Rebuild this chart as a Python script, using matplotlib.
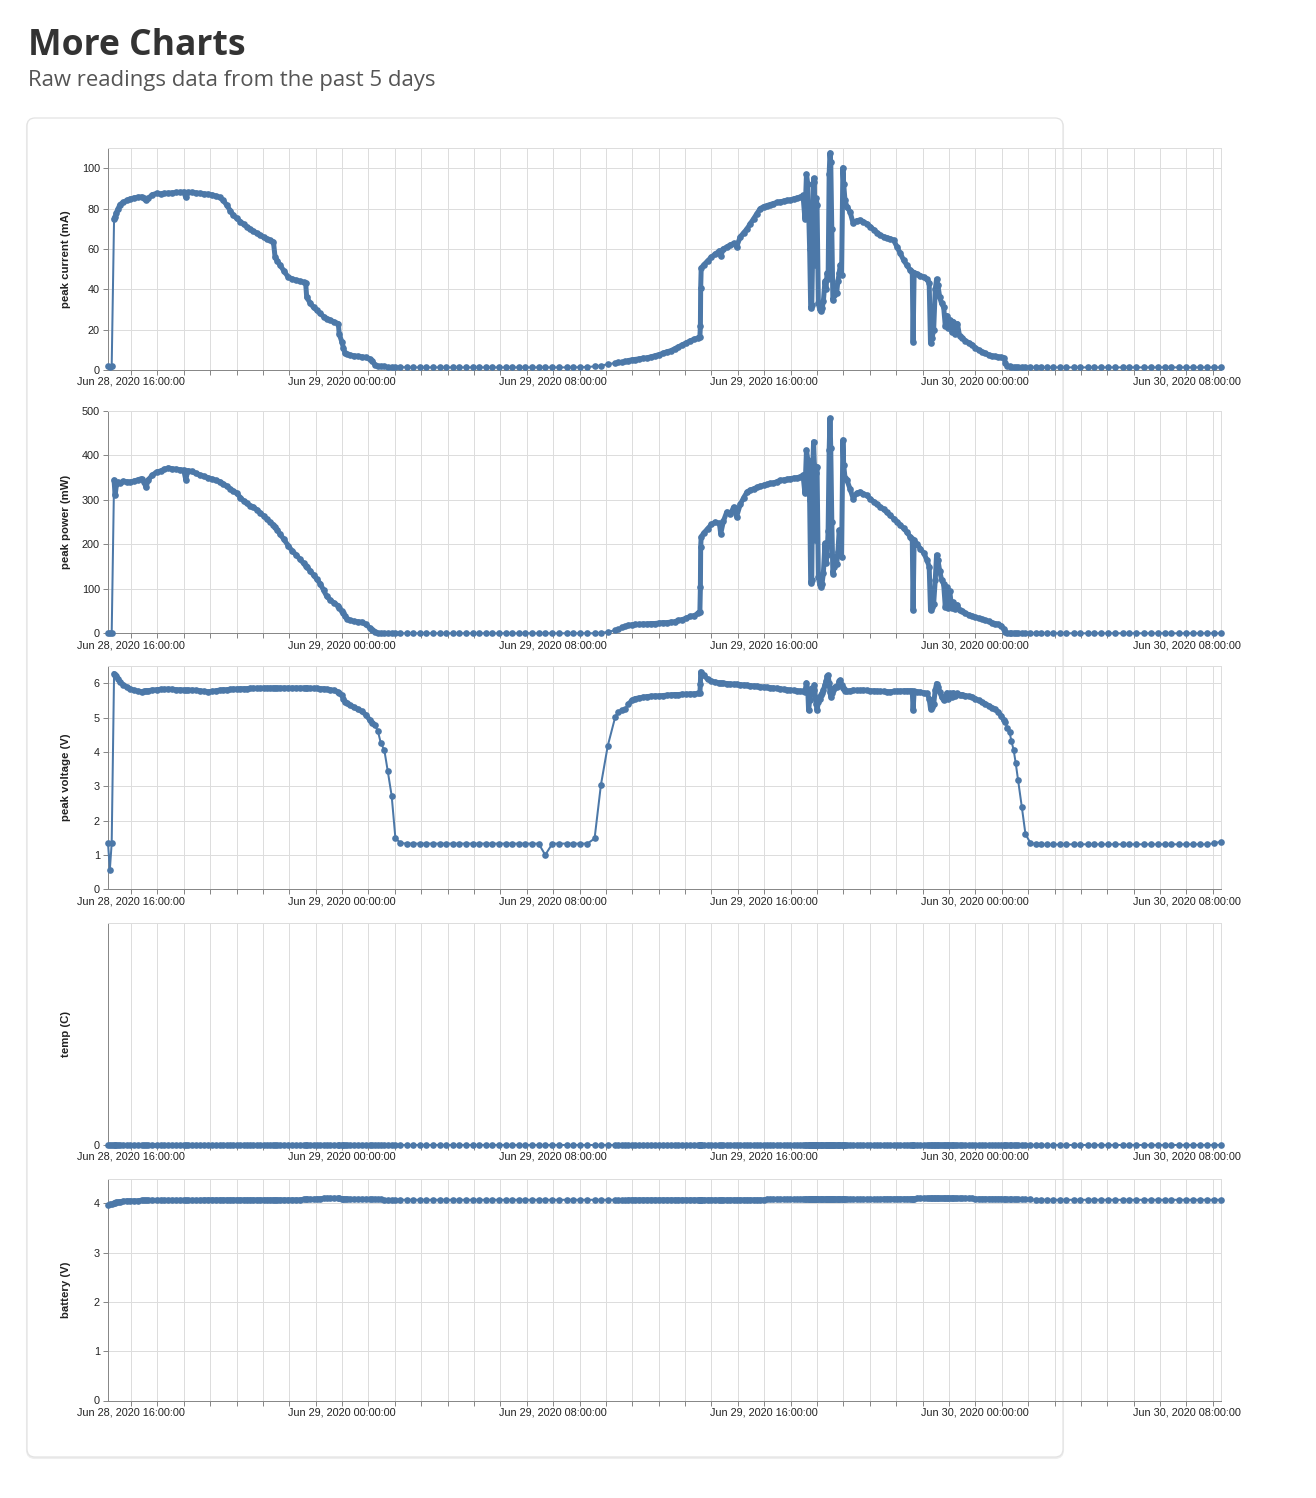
import matplotlib
matplotlib.use("Agg")
import matplotlib.pyplot as plt
import matplotlib.dates as mdates
from matplotlib.patches import FancyBboxPatch
import numpy as np
import pandas as pd

# ---------------- data (hours since 2020-06-28 00:00) ----------------
hours = [
    15.13, 15.20, 15.27, 15.36, 15.40, 15.45, 15.52, 15.58, 15.70, 15.84,
    15.96, 16.10, 16.25, 16.40, 16.50, 16.57, 16.65, 16.80, 16.97, 17.12,
    17.27, 17.42, 17.57, 17.72, 17.86, 18.00, 18.08, 18.15, 18.30, 18.45,
    18.62, 18.77, 18.92, 19.07, 19.22, 19.37, 19.50, 19.63, 19.76, 19.88,
    20.00, 20.15, 20.27, 20.39, 20.52, 20.64, 20.77, 20.90, 21.03, 21.15,
    21.28, 21.40, 21.46, 21.55, 21.65, 21.80, 21.96, 22.10, 22.25, 22.40,
    22.55, 22.62, 22.66, 22.80, 22.92, 23.04, 23.17, 23.30, 23.42, 23.55,
    23.70, 23.86, 23.89, 23.99, 24.05, 24.11, 24.18, 24.30, 24.45, 24.60,
    24.75, 24.90, 25.06, 25.15, 25.25, 25.36, 25.47, 25.60, 25.73, 25.88,
    26.02, 26.20,
    26.45, 26.70, 26.95, 27.20, 27.45, 27.70, 27.95, 28.20, 28.45, 28.70,
    28.95, 29.20, 29.45, 29.70, 29.95, 30.20, 30.45, 30.70, 30.95, 31.20,
    31.45, 31.70, 31.97, 32.24, 32.52, 32.77, 33.02, 33.30, 33.57, 33.81,
    34.07, 34.35,
    34.45, 34.60, 34.72, 34.85, 34.98, 35.10, 35.25, 35.40, 35.55, 35.70,
    35.85, 36.00, 36.15, 36.30, 36.45, 36.60, 36.75, 36.90, 37.05, 37.20,
    37.35, 37.50, 37.56, 37.58, 37.59, 37.61, 37.70, 37.85, 38.00, 38.15,
    38.30, 38.35, 38.45, 38.58, 38.72, 38.84, 38.95, 39.09, 39.22, 39.35,
    39.47, 39.60, 39.72, 39.85, 39.98, 40.10, 40.23, 40.35, 40.48, 40.60,
    40.73, 40.85, 40.99, 41.11, 41.24, 41.37, 41.47, 41.54, 41.60, 41.65,
    41.68, 41.72, 41.76, 41.80, 41.84, 41.87, 41.90, 41.93, 41.97, 42.00,
    42.05, 42.10, 42.14, 42.19, 42.24, 42.30, 42.34, 42.38, 42.42, 42.46,
    42.49, 42.52, 42.56, 42.60, 42.64, 42.69, 42.74, 42.79, 42.84, 42.88,
    42.93, 42.98, 43.01, 43.06, 43.13, 43.25, 43.37, 43.50, 43.63, 43.76,
    43.89, 44.02, 44.15, 44.28, 44.40, 44.53, 44.65, 44.78, 44.90, 45.03,
    45.15, 45.28, 45.40, 45.53, 45.61, 45.64, 45.68, 45.80, 45.92, 46.05,
    46.17, 46.25, 46.30, 46.36, 46.42, 46.48, 46.53, 46.58, 46.65, 46.72,
    46.80, 46.86, 46.92, 46.97, 47.03, 47.10, 47.17, 47.24, 47.32, 47.40,
    47.50, 47.62, 47.75, 47.88, 48.00, 48.12, 48.25, 48.38, 48.50, 48.62,
    48.75, 48.87, 48.98, 49.08, 49.14, 49.20, 49.30, 49.36, 49.45, 49.53,
    49.62, 49.76, 49.90, 50.08,
    50.30, 50.49, 50.72, 50.93, 51.20, 51.45, 51.73, 51.98, 52.26, 52.51,
    52.78, 53.04, 53.31, 53.58, 53.84, 54.10, 54.38, 54.64, 54.91, 55.17,
    55.43, 55.71, 55.98, 56.24, 56.51, 56.78, 57.04, 57.29,
]

# periods (hours) in which the device reported at a fast rate
rapid_periods = [(15.36, 25.25), (34.80, 49.14)]

peak_current = [
    2, 1.5, 2, 75, 76, 78, 80, 82, 83, 84,
    84.7, 85.2, 85.6, 85.8, 85, 84, 85, 86.8, 87.5, 87.3,
    87.5, 87.6, 87.8, 88, 88, 88.2, 85.5, 88, 88, 87.8,
    87.5, 87.3, 87.1, 86.8, 86.2, 85.5, 84, 81.7, 79, 76.7,
    75.2, 73.5, 72.2, 71, 69.8, 68.8, 67.8, 66.8, 65.8, 65,
    64.2, 63.5, 56, 54, 52, 49, 46, 45.2, 44.5, 44,
    43.4, 43.2, 36, 33, 31, 29.7, 28, 26.5, 25.5, 24.7,
    23.8, 23, 18, 14, 11, 8.2, 7.8, 7.4, 7, 6.8,
    6.5, 6.2, 5.5, 4.5, 2.5, 2.2, 2, 1.8, 1.7, 1.6,
    1.5, 1.5,
    1.3, 1.3, 1.3, 1.3, 1.3, 1.3, 1.3, 1.3, 1.3, 1.3,
    1.3, 1.3, 1.3, 1.3, 1.3, 1.3, 1.3, 1.3, 1.3, 1.3,
    1.3, 1.3, 1.3, 1.3, 1.3, 1.3, 1.4, 1.5, 1.8, 2.2,
    2.8, 3.5,
    3.8, 4.1, 4.4, 4.7, 5.0, 5.2, 5.5, 5.8, 6.0, 6.5,
    7.0, 7.6, 8.2, 9.0, 9.5, 10.5, 11.5, 12.5, 13.5, 14.5,
    15.2, 16, 16.5, 21.8, 40.4, 50.5, 52, 54, 56, 57.5,
    59, 56.5, 60, 61, 62, 62.7, 61, 66, 68, 70,
    72.5, 75, 77.5, 80, 81, 81.5, 82, 82.5, 83, 83.3,
    83.7, 84, 84.2, 84.8, 85.2, 85.6, 86.5, 75, 97, 92,
    80, 60, 30.5, 32, 62, 95, 93, 52, 85, 82,
    33, 30, 29, 30.5, 34, 44, 40, 48, 45, 97,
    107.6, 103, 70, 34.6, 37, 41, 38, 44, 48, 52,
    47, 100.3, 92, 84, 81, 78.4, 72.6, 74, 74.3, 73.5,
    72.5, 71, 69.5, 68, 66.8, 66, 65.5, 65, 64.4, 61,
    57.8, 54.5, 52, 49.5, 48.7, 14, 48.3, 47.5, 46.8, 46,
    45, 43, 13.4, 16, 20, 40, 45, 42, 36, 33,
    31, 22, 27, 21, 25, 19, 24, 18, 23, 17,
    16, 14.5, 13.5, 12.5, 11, 10, 9, 8.2, 7.5, 7,
    6.7, 6.5, 6.3, 6.0, 3.5, 2.2, 1.8, 1.7, 1.6, 1.5,
    1.5, 1.4, 1.4, 1.3,
    1.3, 1.3, 1.3, 1.3, 1.3, 1.3, 1.3, 1.3, 1.3, 1.3,
    1.3, 1.3, 1.3, 1.3, 1.3, 1.3, 1.3, 1.3, 1.3, 1.3,
    1.3, 1.3, 1.3, 1.3, 1.3, 1.3, 1.3, 1.3,
]

peak_power = [
    0, 0, 0, 345, 310, 335, 340, 338, 342, 341,
    340, 342, 345, 348, 340, 328, 345, 355, 363, 365,
    369, 372, 370, 369, 368, 367, 345, 366, 364, 360,
    356, 353, 350, 347, 344, 341, 336, 331, 325, 320,
    316, 305, 298, 292, 287, 284, 278, 271, 264, 257,
    250, 244, 239, 232, 223, 211, 197, 186, 177, 167,
    157, 152, 150, 140, 131, 122, 112, 97, 83, 75,
    68, 62, 57, 50, 45, 38, 33, 29, 27, 26,
    25, 20, 12, 8, 4, 1, 0, 0, 0, 0,
    0, 0,
    0, 0, 0, 0, 0, 0, 0, 0, 0, 0,
    0, 0, 0, 0, 0, 0, 0, 0, 0, 0,
    0, 0, 0, 0, 0, 0, 0, 0, 0, 1,
    3, 7,
    10, 14, 16, 18, 19, 20, 20, 21, 21, 22,
    22, 23, 24, 24, 25, 26, 29, 31, 34, 38,
    40, 45, 48, 104, 194, 217, 225, 235, 245, 250,
    247, 224, 252, 273, 268, 284, 262, 290, 305, 318,
    322, 325, 328, 331, 333, 335, 337, 338, 341, 344,
    345, 346, 348, 349, 350, 352, 356, 315, 412, 390,
    360, 300, 113, 120, 380, 431, 375, 209, 360, 375,
    127, 110, 104, 112, 135, 202, 157, 175, 230, 412,
    484, 416, 250, 134, 150, 172, 155, 182, 232, 200,
    172, 435, 378, 350, 345, 325, 303, 315, 318, 314,
    310, 302, 296, 290, 284, 279, 272, 265, 258, 251,
    244, 236, 228, 217, 212, 52, 209, 200, 190, 180,
    164, 150, 52, 60, 67, 120, 176, 165, 140, 120,
    110, 60, 104, 56, 95, 58, 70, 55, 64, 52,
    50, 45, 42, 39, 36, 34, 32, 29, 27, 24,
    22, 20, 17, 10, 4, 1, 0, 0, 0, 0,
    0, 0, 0, 0,
    0, 0, 0, 0, 0, 0, 0, 0, 0, 0,
    0, 0, 0, 0, 0, 0, 0, 0, 0, 0,
    0, 0, 0, 0, 0, 0, 0, 0,
]

peak_voltage = [
    1.35, 0.57, 1.35, 6.28, 6.25, 6.20, 6.12, 6.04, 5.96, 5.89,
    5.84, 5.80, 5.77, 5.75, 5.76, 5.78, 5.78, 5.80, 5.81, 5.82,
    5.82, 5.83, 5.82, 5.81, 5.81, 5.80, 5.79, 5.80, 5.80, 5.79,
    5.78, 5.76, 5.75, 5.76, 5.78, 5.80, 5.81, 5.81, 5.82, 5.83,
    5.83, 5.84, 5.84, 5.84, 5.85, 5.85, 5.85, 5.85, 5.86, 5.86,
    5.86, 5.86, 5.86, 5.86, 5.86, 5.86, 5.86, 5.86, 5.86, 5.86,
    5.86, 5.86, 5.86, 5.85, 5.85, 5.85, 5.84, 5.84, 5.82, 5.81,
    5.79, 5.74, 5.70, 5.65, 5.55, 5.45, 5.41, 5.36, 5.30, 5.24,
    5.18, 5.08, 4.92, 4.85, 4.77, 4.60, 4.25, 4.06, 3.45, 2.72,
    1.50, 1.35,
    1.33, 1.33, 1.33, 1.33, 1.33, 1.33, 1.33, 1.33, 1.33, 1.33,
    1.33, 1.33, 1.33, 1.33, 1.33, 1.33, 1.33, 1.33, 1.33, 1.33,
    1.33, 1.00, 1.33, 1.33, 1.33, 1.33, 1.33, 1.33, 1.48, 3.04,
    4.18, 5.01,
    5.15, 5.23, 5.26, 5.38, 5.50, 5.55, 5.57, 5.59, 5.61, 5.62,
    5.63, 5.63, 5.64, 5.65, 5.66, 5.67, 5.67, 5.68, 5.68, 5.69,
    5.69, 5.70, 5.70, 5.99, 6.33, 6.30, 6.23, 6.12, 6.06, 6.03,
    6.01, 6.01, 6.00, 5.99, 5.98, 5.97, 5.97, 5.96, 5.95, 5.94,
    5.93, 5.92, 5.91, 5.90, 5.89, 5.88, 5.87, 5.86, 5.85, 5.84,
    5.82, 5.81, 5.80, 5.79, 5.78, 5.77, 5.76, 5.75, 6.01, 5.80,
    5.21, 5.50, 5.75, 5.85, 5.70, 5.80, 5.95, 5.60, 5.40, 5.21,
    5.45, 5.55, 5.65, 5.70, 5.80, 5.95, 6.05, 6.20, 6.23, 6.00,
    5.75, 5.60, 5.70, 5.80, 5.85, 5.90, 5.88, 5.95, 6.05, 6.09,
    5.95, 5.85, 5.82, 5.78, 5.76, 5.78, 5.80, 5.79, 5.79, 5.80,
    5.79, 5.78, 5.78, 5.77, 5.76, 5.76, 5.75, 5.75, 5.76, 5.77,
    5.77, 5.78, 5.78, 5.78, 5.77, 5.21, 5.76, 5.75, 5.74, 5.72,
    5.70, 5.55, 5.26, 5.30, 5.40, 5.80, 5.99, 5.90, 5.75, 5.60,
    5.50, 5.62, 5.72, 5.55, 5.70, 5.60, 5.72, 5.62, 5.70, 5.66,
    5.67, 5.64, 5.62, 5.60, 5.55, 5.50, 5.44, 5.40, 5.35, 5.29,
    5.24, 5.16, 5.05, 4.92, 4.87, 4.70, 4.57, 4.33, 4.06, 3.67,
    3.18, 2.40, 1.60, 1.36,
    1.31, 1.31, 1.31, 1.31, 1.31, 1.31, 1.31, 1.31, 1.31, 1.31,
    1.31, 1.31, 1.31, 1.31, 1.31, 1.31, 1.31, 1.31, 1.31, 1.31,
    1.31, 1.31, 1.31, 1.31, 1.31, 1.31, 1.34, 1.38,
]

temp = [
    0, 0, 0, 0, 0, 0, 0, 0, 0, 0,
    0, 0, 0, 0, 0, 0, 0, 0, 0, 0,
    0, 0, 0, 0, 0, 0, 0, 0, 0, 0,
    0, 0, 0, 0, 0, 0, 0, 0, 0, 0,
    0, 0, 0, 0, 0, 0, 0, 0, 0, 0,
    0, 0, 0, 0, 0, 0, 0, 0, 0, 0,
    0, 0, 0, 0, 0, 0, 0, 0, 0, 0,
    0, 0, 0, 0, 0, 0, 0, 0, 0, 0,
    0, 0, 0, 0, 0, 0, 0, 0, 0, 0,
    0, 0,
    0, 0, 0, 0, 0, 0, 0, 0, 0, 0,
    0, 0, 0, 0, 0, 0, 0, 0, 0, 0,
    0, 0, 0, 0, 0, 0, 0, 0, 0, 0,
    0, 0,
    0, 0, 0, 0, 0, 0, 0, 0, 0, 0,
    0, 0, 0, 0, 0, 0, 0, 0, 0, 0,
    0, 0, 0, 0, 0, 0, 0, 0, 0, 0,
    0, 0, 0, 0, 0, 0, 0, 0, 0, 0,
    0, 0, 0, 0, 0, 0, 0, 0, 0, 0,
    0, 0, 0, 0, 0, 0, 0, 0, 0, 0,
    0, 0, 0, 0, 0, 0, 0, 0, 0, 0,
    0, 0, 0, 0, 0, 0, 0, 0, 0, 0,
    0, 0, 0, 0, 0, 0, 0, 0, 0, 0,
    0, 0, 0, 0, 0, 0, 0, 0, 0, 0,
    0, 0, 0, 0, 0, 0, 0, 0, 0, 0,
    0, 0, 0, 0, 0, 0, 0, 0, 0, 0,
    0, 0, 0, 0, 0, 0, 0, 0, 0, 0,
    0, 0, 0, 0, 0, 0, 0, 0, 0, 0,
    0, 0, 0, 0, 0, 0, 0, 0, 0, 0,
    0, 0, 0, 0, 0, 0, 0, 0, 0, 0,
    0, 0, 0, 0,
    0, 0, 0, 0, 0, 0, 0, 0, 0, 0,
    0, 0, 0, 0, 0, 0, 0, 0, 0, 0,
    0, 0, 0, 0, 0, 0, 0, 0,
]

battery = [
    3.97, 3.98, 3.99, 4.00, 4.01, 4.02, 4.02, 4.03, 4.04, 4.05,
    4.05, 4.05, 4.05, 4.06, 4.06, 4.06, 4.06, 4.06, 4.06, 4.06,
    4.06, 4.06, 4.06, 4.06, 4.06, 4.06, 4.06, 4.06, 4.06, 4.06,
    4.06, 4.07, 4.07, 4.07, 4.07, 4.07, 4.07, 4.07, 4.07, 4.07,
    4.07, 4.07, 4.07, 4.07, 4.07, 4.07, 4.07, 4.07, 4.07, 4.07,
    4.07, 4.07, 4.07, 4.07, 4.07, 4.07, 4.07, 4.07, 4.07, 4.07,
    4.08, 4.08, 4.08, 4.08, 4.08, 4.09, 4.09, 4.10, 4.10, 4.10,
    4.10, 4.10, 4.10, 4.09, 4.09, 4.09, 4.09, 4.08, 4.08, 4.08,
    4.08, 4.08, 4.08, 4.08, 4.08, 4.08, 4.08, 4.07, 4.07, 4.07,
    4.07, 4.07,
    4.07, 4.07, 4.07, 4.07, 4.07, 4.07, 4.07, 4.07, 4.07, 4.07,
    4.07, 4.07, 4.07, 4.07, 4.07, 4.07, 4.07, 4.07, 4.07, 4.07,
    4.07, 4.07, 4.07, 4.07, 4.07, 4.07, 4.07, 4.07, 4.07, 4.07,
    4.07, 4.07,
    4.07, 4.07, 4.07, 4.07, 4.07, 4.07, 4.07, 4.07, 4.07, 4.07,
    4.07, 4.07, 4.07, 4.07, 4.07, 4.07, 4.07, 4.07, 4.07, 4.07,
    4.07, 4.07, 4.07, 4.07, 4.07, 4.07, 4.07, 4.07, 4.07, 4.07,
    4.07, 4.07, 4.07, 4.07, 4.07, 4.07, 4.07, 4.07, 4.07, 4.07,
    4.07, 4.07, 4.07, 4.07, 4.07, 4.08, 4.08, 4.08, 4.08, 4.08,
    4.08, 4.08, 4.08, 4.08, 4.08, 4.08, 4.08, 4.08, 4.08, 4.08,
    4.08, 4.08, 4.08, 4.08, 4.08, 4.08, 4.08, 4.08, 4.08, 4.08,
    4.08, 4.08, 4.08, 4.08, 4.08, 4.08, 4.08, 4.08, 4.08, 4.08,
    4.08, 4.08, 4.08, 4.08, 4.08, 4.08, 4.08, 4.08, 4.08, 4.08,
    4.08, 4.08, 4.08, 4.08, 4.08, 4.08, 4.08, 4.08, 4.08, 4.08,
    4.08, 4.08, 4.08, 4.08, 4.08, 4.09, 4.09, 4.09, 4.09, 4.09,
    4.09, 4.09, 4.09, 4.09, 4.09, 4.09, 4.09, 4.10, 4.10, 4.10,
    4.10, 4.10, 4.10, 4.10, 4.10, 4.10, 4.10, 4.10, 4.10, 4.10,
    4.10, 4.10, 4.10, 4.10, 4.10, 4.10, 4.10, 4.10, 4.10, 4.10,
    4.10, 4.10, 4.10, 4.10, 4.09, 4.09, 4.09, 4.09, 4.09, 4.09,
    4.09, 4.09, 4.09, 4.08, 4.08, 4.08, 4.08, 4.08, 4.08, 4.08,
    4.08, 4.08, 4.08, 4.08,
    4.07, 4.07, 4.07, 4.07, 4.07, 4.07, 4.07, 4.07, 4.07, 4.07,
    4.07, 4.07, 4.07, 4.07, 4.07, 4.07, 4.07, 4.07, 4.07, 4.07,
    4.07, 4.07, 4.07, 4.07, 4.07, 4.07, 4.07, 4.07,
]

series_titles = ["peak current (mA)", "peak power (mW)", "peak voltage (V)",
                 "temp (C)", "battery (V)"]
series_values = [peak_current, peak_power, peak_voltage, temp, battery]
y_limits = [(0, 110), (0, 500), (0, 6.5), (0, 1), (0, 4.5)]
y_ticks = [[0, 20, 40, 60, 80, 100], [0, 100, 200, 300, 400, 500],
           [0, 1, 2, 3, 4, 5, 6], [0], [0, 1, 2, 3, 4]]

for v in series_values:
    assert len(v) == len(hours), (len(v), len(hours))

hours_arr = np.asarray(hours)
times = (pd.Timestamp("2020-06-28") + pd.to_timedelta(hours_arr, unit="h")).to_numpy()

# fast-rate readings render as a dense band of overlapping points
rapid = np.zeros(len(hours_arr), dtype=bool)
for a, b in rapid_periods:
    rapid |= (hours_arr >= a - 1e-9) & (hours_arr <= b + 1e-9)

# ---------------- figure ----------------
plt.rcParams["font.family"] = ["Liberation Sans", "DejaVu Sans"]
W, H = 1316, 1498
fig = plt.figure(figsize=(W / 100, H / 100), dpi=100)
fig.patch.set_facecolor("white")

# card
shadow = FancyBboxPatch((0.27, 0.40), 10.36, 13.39,
                        boxstyle="round,pad=0,rounding_size=0.08",
                        transform=fig.dpi_scale_trans, facecolor="#f1f1f1",
                        edgecolor="#eeeeee", lw=1.5, zorder=-3)
card = FancyBboxPatch((0.27, 0.41), 10.36, 13.39,
                      boxstyle="round,pad=0,rounding_size=0.08",
                      transform=fig.dpi_scale_trans, facecolor="white",
                      edgecolor="#e3e3e3", lw=0.9, zorder=-2)
fig.patches.append(shadow)
fig.patches.append(card)

fig.text(28 / W, 1 - 55 / H, "More Charts", fontsize=25.6, fontweight="bold",
         family=["Open Sans", "DejaVu Sans"], color="#333333", va="baseline")
fig.text(28 / W, 1 - 86 / H, "Raw readings data from the past 5 days", fontsize=15.9,
         family=["Open Sans", "DejaVu Sans"], color="#555555", va="baseline")

tops = [148, 411, 666, 923, 1178.6]
bottoms = [370, 633.3, 889.3, 1145, 1400.5]
left_px, right_px = 108, 1220.5
color = "#4c78a8"

for i in range(5):
    ax = fig.add_axes([left_px / W, 1 - bottoms[i] / H, (right_px - left_px) / W,
                       (bottoms[i] - tops[i]) / H])
    ax.set_facecolor("none")
    vals = np.asarray(series_values[i], dtype=float)
    band = np.where(rapid, vals, np.nan)
    ax.plot(times, band, "-", color=color, lw=3.6, solid_capstyle="round",
            solid_joinstyle="round", clip_on=False, zorder=3)
    ax.plot(times, vals, "-o", color=color, lw=1.45, ms=4.8, mew=0,
            clip_on=False, zorder=3)
    ax.set_xlim(times[0], times[-1])
    ax.set_ylim(*y_limits[i])
    ax.set_yticks(y_ticks[i])
    ax.xaxis.set_major_locator(mdates.HourLocator(byhour=[0, 8, 16]))
    ax.xaxis.set_minor_locator(mdates.HourLocator())
    ax.xaxis.set_major_formatter(mdates.DateFormatter("%b %d, %Y %H:%M:%S"))
    ax.tick_params(axis="both", which="both", length=3.6, width=0.72,
                   color="#888888", labelsize=7.8, labelcolor="#222222")
    ax.tick_params(axis="x", which="both", pad=1.4)
    ax.tick_params(axis="y", which="both", pad=2.2)
    ax.grid(True, which="both", axis="x", color="#dddddd", lw=0.72)
    ax.grid(True, which="major", axis="y", color="#dddddd", lw=0.72)
    ax.set_axisbelow(True)
    for s in ["left", "bottom"]:
        ax.spines[s].set_color("#888888")
        ax.spines[s].set_linewidth(0.72)
    for s in ["top", "right"]:
        ax.spines[s].set_color("#dddddd")
        ax.spines[s].set_linewidth(0.72)
    fig.text(66 / W, 1 - (tops[i] + bottoms[i]) / 2 / H, series_titles[i],
             rotation=90, ha="center", va="center", fontsize=8.2,
             fontweight="bold", color="#222222")

fig.savefig("out.png", dpi=100)
